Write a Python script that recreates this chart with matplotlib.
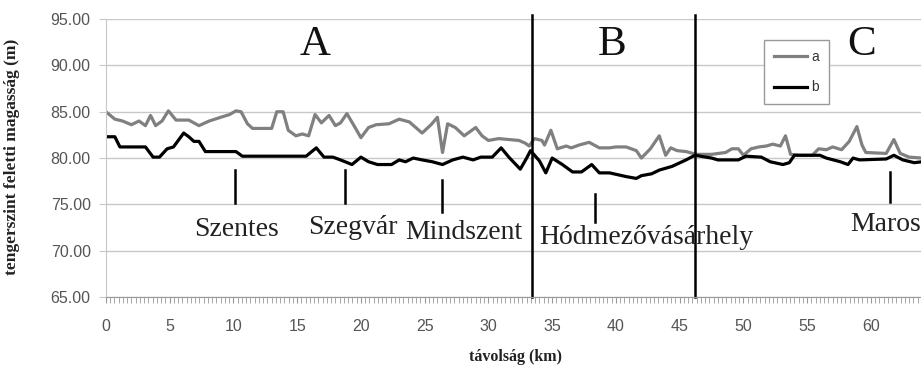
import matplotlib.pyplot as plt
from matplotlib.ticker import MultipleLocator, FormatStrFormatter

# elevation profiles (km, m)
dist_a = [0.0, 0.7, 1.3, 2.0, 2.6, 3.1, 3.5, 3.9, 4.4, 4.9, 5.5, 6.5, 7.3, 8.1,
          9.0, 9.7, 10.2, 10.6, 11.1, 11.5, 13.0, 13.4, 13.9, 14.3, 14.9, 15.4,
          15.9, 16.4, 16.9, 17.5, 18.0, 18.4, 18.9, 19.5, 20.0, 20.6, 21.2,
          22.2, 23.0, 23.8, 24.8, 25.5, 26.0, 26.4, 26.8, 27.4, 28.1, 28.5,
          29.0, 29.5, 30.0, 30.8, 31.6, 32.4, 32.9, 33.2, 33.6, 34.2, 34.4,
          34.9, 35.4, 36.1, 36.5, 37.1, 37.9, 38.7, 39.5, 40.0, 40.8, 41.6,
          42.0, 42.7, 43.4, 43.9, 44.3, 44.8, 45.5, 46.3, 47.5, 48.6, 49.1,
          49.6, 50.0, 50.6, 51.2, 51.8, 52.3, 52.9, 53.3, 53.7, 54.4, 55.4,
          55.9, 56.5, 57.0, 57.7, 58.3, 58.9, 59.3, 59.6, 61.2, 61.8, 62.3,
          63.0, 64.0]
elev_a = [85.0, 84.2, 84.0, 83.6, 84.0, 83.5, 84.6, 83.5, 84.0, 85.1, 84.1,
          84.1, 83.5, 84.0, 84.4, 84.7, 85.1, 85.0, 83.7, 83.2, 83.2, 85.0,
          85.0, 83.0, 82.4, 82.6, 82.4, 84.7, 83.8, 84.6, 83.5, 83.8, 84.8,
          83.4, 82.2, 83.3, 83.6, 83.7, 84.2, 83.9, 82.7, 83.6, 84.4, 80.6,
          83.7, 83.3, 82.4, 82.8, 83.3, 82.4, 81.9, 82.1, 82.0, 81.9, 81.6,
          81.3, 82.1, 81.9, 81.4, 83.0, 81.0, 81.3, 81.1, 81.4, 81.7, 81.1,
          81.1, 81.2, 81.2, 80.8, 80.0, 81.0, 82.4, 80.3, 81.1, 80.8, 80.7,
          80.4, 80.4, 80.6, 81.0, 81.0, 80.3, 81.0, 81.2, 81.3, 81.5, 81.3,
          82.4, 80.4, 80.3, 80.3, 81.0, 80.9, 81.2, 80.9, 81.8, 83.4, 81.4,
          80.6, 80.5, 82.0, 80.5, 80.1, 80.0]

dist_b = [0.0, 0.7, 1.1, 3.1, 3.7, 4.2, 4.8, 5.3, 6.1, 6.5, 6.9, 7.3, 7.8,
          10.2, 10.7, 15.7, 16.5, 17.1, 17.8, 18.4, 19.3, 20.0, 20.6, 21.3,
          22.4, 23.0, 23.5, 24.1, 24.8, 25.6, 26.4, 27.2, 28.0, 28.8, 29.4,
          30.3, 31.0, 31.6, 32.5, 33.0, 33.3, 34.0, 34.5, 35.0, 35.8, 36.6,
          37.3, 38.1, 38.7, 39.5, 40.8, 41.6, 42.0, 42.8, 43.4, 44.4, 45.5,
          46.2, 47.5, 48.0, 49.6, 50.2, 51.4, 52.1, 53.1, 53.6, 54.0, 56.0,
          56.5, 57.6, 58.2, 58.6, 59.1, 61.2, 61.8, 62.5, 63.4, 64.0]
elev_b = [82.3, 82.3, 81.2, 81.2, 80.1, 80.1, 81.0, 81.2, 82.7, 82.3, 81.8,
          81.8, 80.7, 80.7, 80.2, 80.2, 81.1, 80.1, 80.1, 79.8, 79.3, 80.1,
          79.6, 79.3, 79.3, 79.8, 79.6, 80.0, 79.8, 79.6, 79.3, 79.8, 80.1,
          79.8, 80.1, 80.1, 81.1, 80.1, 78.8, 80.0, 80.8, 79.7, 78.4, 80.0,
          79.3, 78.5, 78.5, 79.3, 78.4, 78.4, 78.0, 77.8, 78.1, 78.3, 78.7,
          79.1, 79.8, 80.3, 80.0, 79.8, 79.8, 80.2, 80.1, 79.6, 79.3, 79.5,
          80.3, 80.3, 80.0, 79.6, 79.3, 80.0, 79.8, 79.9, 80.3, 79.8, 79.5,
          79.6]

# section borders and section names
borders = [33.4, 46.2]
sections = ["A", "B", "C"]
section_x = [16.4, 39.7, 59.3]

# towns: marker position, marker span, label position
towns = ["Szentes", "Szegvár", "Mindszent", "Hódmezővásárhely", "Maros"]
town_km = [10.1, 18.75, 26.35, 38.35, 61.5]
mark_top = [78.7, 78.7, 77.6, 76.1, 78.5]
mark_bottom = [75.2, 75.2, 74.2, 73.1, 75.3]
label_x = [10.27, 19.4, 28.1, 42.4, 58.35]
label_y = [71.6, 71.8, 71.3, 70.7, 72.1]

fig = plt.figure(figsize=(9.21, 3.68), dpi=100)
ax = fig.add_axes([0.115, 0.193, 0.886, 0.755])

ax.plot(dist_a, elev_a, color="#808080", lw=2.3, label="a")
ax.plot(dist_b, elev_b, color="black", lw=2.3, label="b")

for x in borders:
    ax.plot([x, x], [65, 95.45], color="black", lw=1.8, clip_on=False)

for name, x in zip(sections, section_x):
    ax.text(x, 92.2, name, ha="center", va="center", fontsize=31,
            family="Liberation Serif", color="#111111")

for name, km, top, bot, lx, ly in zip(towns, town_km, mark_top, mark_bottom,
                                      label_x, label_y):
    ax.plot([km, km], [bot, top], color="black", lw=1.8)
    ha = "left" if name == "Maros" else "center"
    ax.text(lx, ly, name, ha=ha, va="baseline", fontsize=20,
            family="Liberation Serif", color="#222222", clip_on=False)

ax.set_xlim(0, 64)
ax.set_ylim(65, 95)
ax.yaxis.set_major_locator(MultipleLocator(5))
ax.yaxis.set_major_formatter(FormatStrFormatter("%.2f"))
ax.xaxis.set_major_locator(MultipleLocator(5))
ax.xaxis.set_minor_locator(MultipleLocator(1 / 3))
ax.grid(axis="y", color="#c8c8c8", lw=1)
ax.set_axisbelow(True)

for side in ["top", "right"]:
    ax.spines[side].set_visible(False)
ax.spines["left"].set_color("#c8c8c8")
ax.spines["bottom"].set_color("#999999")

ax.tick_params(axis="y", length=5, color="#c8c8c8", pad=6,
               labelsize=11.5, labelcolor="#555555")
ax.tick_params(axis="x", which="major", length=4, color="#999999", pad=12,
               labelsize=11.5, labelcolor="#555555")
ax.tick_params(axis="x", which="minor", length=4, color="#999999")
for lab in ax.get_xticklabels() + ax.get_yticklabels():
    lab.set_family("Liberation Sans")

fig.text(0.013, 0.575, "tengerszint feletti magasság (m)", rotation=90,
         ha="center", va="center", fontsize=12.5, fontweight="bold",
         family="Liberation Serif", color="#222222")
fig.text(515 / 921, 1 - 357 / 368, "távolság (km)", ha="center", va="center",
         fontsize=11.5, fontweight="bold", family="Liberation Serif",
         color="#222222")

leg = ax.legend(loc="upper left", bbox_to_anchor=(764 / 921, 1 - 40 / 368),
                bbox_transform=fig.transFigure, fontsize=10, handlelength=2.4,
                handletextpad=0.3, labelspacing=1.2, borderpad=0.7,
                borderaxespad=0, fancybox=False, framealpha=1,
                edgecolor="#999999")
for t in leg.get_texts():
    t.set_family("Liberation Sans")
    t.set_color("#333333")

fig.savefig("out.png", dpi=100)
